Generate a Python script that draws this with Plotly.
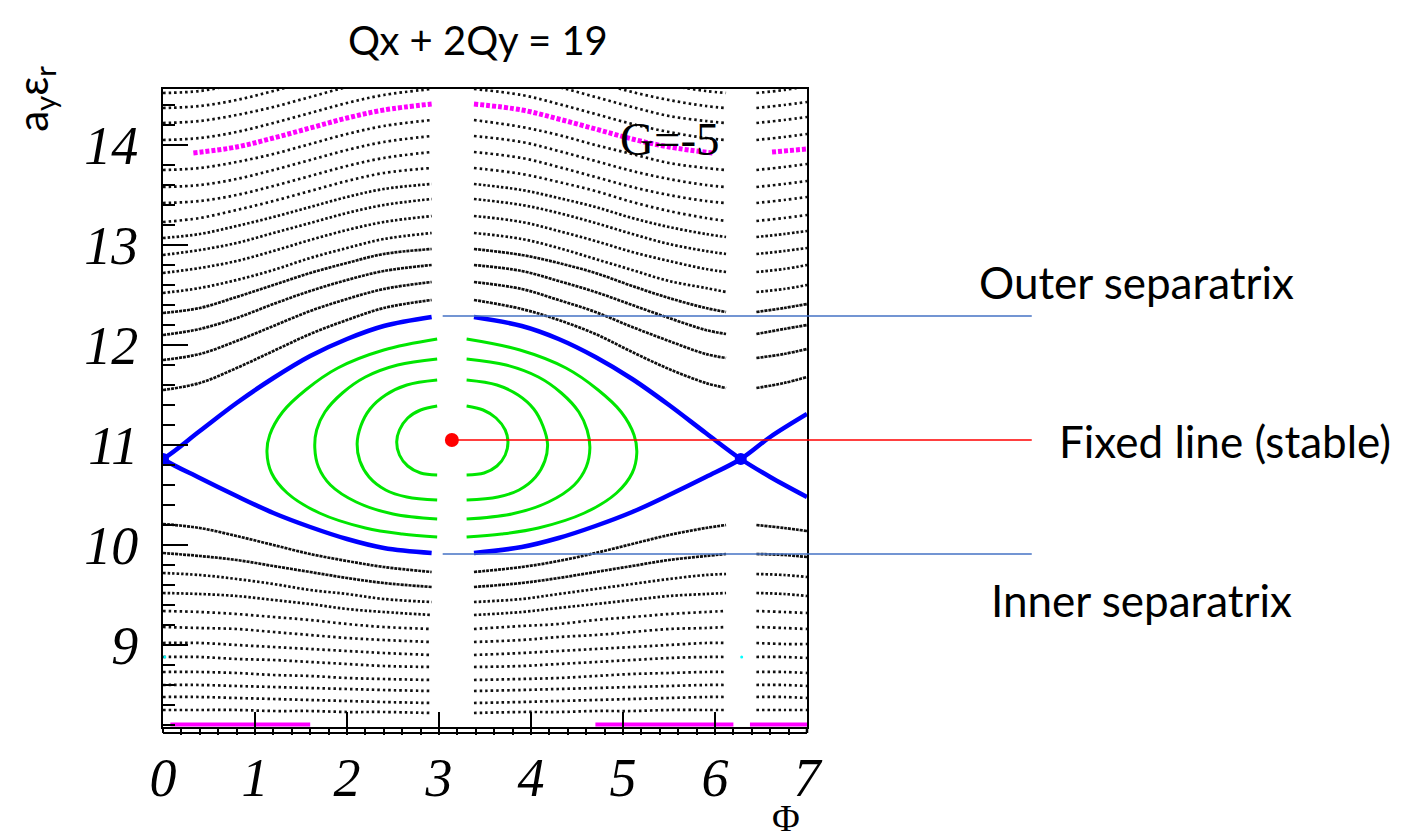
import plotly.graph_objects as go

# ---------------- data ----------------
# phase stations (Phi) used for every non-island trajectory; gaps near pi and 2pi
PHI_LEFT = [0.0, 0.4, 0.8, 1.2, 1.6, 2.0, 2.4, 2.92]
PHI_RIGHT = [3.38, 3.9, 4.3, 4.7, 5.1, 5.5, 5.9, 6.12]
PHI_FAR = [6.45, 6.75, 7.0]

# trajectories above the outer separatrix (19 values: left 8, right 8, far 3)
UPPER_CURVES = [
    [14.52, 14.54, 14.61, 14.70, 14.81, 14.92, 15.02, 15.08, 15.08, 15.01, 14.92, 14.81, 14.70, 14.60, 14.54, 14.52, 14.52, 14.55, 14.59],
    [14.37, 14.39, 14.45, 14.54, 14.64, 14.74, 14.82, 14.88, 14.88, 14.82, 14.73, 14.63, 14.53, 14.45, 14.39, 14.37, 14.37, 14.40, 14.43],
    [14.22, 14.24, 14.30, 14.38, 14.48, 14.58, 14.66, 14.72, 14.72, 14.66, 14.58, 14.48, 14.38, 14.29, 14.24, 14.22, 14.22, 14.25, 14.28],
    [14.05, 14.07, 14.13, 14.22, 14.32, 14.42, 14.50, 14.56, 14.56, 14.50, 14.41, 14.31, 14.21, 14.13, 14.07, 14.05, 14.05, 14.08, 14.11],
    [13.75, 13.77, 13.83, 13.91, 14.01, 14.11, 14.19, 14.25, 14.25, 14.18, 14.10, 14.00, 13.91, 13.82, 13.77, 13.75, 13.75, 13.78, 13.81],
    [13.58, 13.60, 13.66, 13.75, 13.85, 13.95, 14.03, 14.09, 14.09, 14.03, 13.94, 13.84, 13.74, 13.66, 13.60, 13.58, 13.58, 13.61, 13.64],
    [13.42, 13.44, 13.50, 13.59, 13.69, 13.79, 13.87, 13.93, 13.93, 13.87, 13.78, 13.68, 13.58, 13.50, 13.44, 13.42, 13.42, 13.45, 13.48],
    [13.23, 13.27, 13.35, 13.44, 13.54, 13.64, 13.72, 13.77, 13.77, 13.71, 13.63, 13.54, 13.43, 13.34, 13.27, 13.24, 13.24, 13.27, 13.30],
    [13.07, 13.11, 13.19, 13.28, 13.38, 13.48, 13.56, 13.61, 13.61, 13.55, 13.47, 13.38, 13.27, 13.18, 13.11, 13.08, 13.08, 13.11, 13.14],
    [12.90, 12.95, 13.02, 13.12, 13.22, 13.32, 13.40, 13.46, 13.46, 13.40, 13.32, 13.22, 13.11, 13.01, 12.94, 12.91, 12.91, 12.94, 12.97],
    [12.72, 12.77, 12.84, 12.94, 13.05, 13.15, 13.23, 13.29, 13.29, 13.23, 13.14, 13.04, 12.93, 12.84, 12.76, 12.73, 12.73, 12.76, 12.80],
    [12.52, 12.57, 12.65, 12.75, 12.87, 12.97, 13.06, 13.12, 13.12, 13.06, 12.97, 12.86, 12.75, 12.64, 12.57, 12.53, 12.53, 12.56, 12.60],
    [12.32, 12.37, 12.48, 12.60, 12.72, 12.82, 12.91, 12.96, 12.96, 12.90, 12.82, 12.72, 12.59, 12.47, 12.37, 12.33, 12.33, 12.37, 12.41],
    [12.10, 12.16, 12.27, 12.41, 12.54, 12.65, 12.74, 12.80, 12.80, 12.74, 12.64, 12.53, 12.40, 12.27, 12.15, 12.11, 12.11, 12.16, 12.20],
    [11.85, 11.91, 12.04, 12.19, 12.34, 12.46, 12.56, 12.63, 12.63, 12.56, 12.45, 12.33, 12.18, 12.04, 11.91, 11.87, 11.87, 11.91, 11.96],
    [11.55, 11.62, 11.77, 11.94, 12.11, 12.25, 12.37, 12.45, 12.45, 12.36, 12.25, 12.11, 11.93, 11.76, 11.62, 11.57, 11.57, 11.62, 11.68],
]
UPPER_DASH = ["2.5px,3px"] * 8 + ["2.5px,2px"] * 4 + ["3px,1px"] * 4

# trajectories below the inner separatrix
LOWER_CURVES = [
    [10.21, 10.17, 10.09, 10.00, 9.91, 9.84, 9.78, 9.73, 9.73, 9.78, 9.84, 9.92, 10.01, 10.10, 10.17, 10.20, 10.20, 10.17, 10.14],
    [9.92, 9.89, 9.85, 9.79, 9.73, 9.67, 9.62, 9.58, 9.58, 9.62, 9.67, 9.73, 9.79, 9.85, 9.89, 9.91, 9.91, 9.90, 9.88],
    [9.72, 9.70, 9.66, 9.61, 9.55, 9.51, 9.46, 9.43, 9.43, 9.46, 9.51, 9.56, 9.61, 9.66, 9.70, 9.71, 9.71, 9.70, 9.68],
    [9.52, 9.51, 9.49, 9.45, 9.41, 9.36, 9.33, 9.30, 9.30, 9.33, 9.37, 9.41, 9.45, 9.49, 9.51, 9.52, 9.52, 9.51, 9.49],
    [9.34, 9.33, 9.31, 9.28, 9.25, 9.21, 9.18, 9.16, 9.16, 9.19, 9.21, 9.25, 9.28, 9.31, 9.33, 9.34, 9.34, 9.33, 9.32],
    [9.18, 9.17, 9.16, 9.13, 9.10, 9.07, 9.05, 9.03, 9.03, 9.05, 9.08, 9.10, 9.13, 9.16, 9.17, 9.18, 9.18, 9.17, 9.16],
    [9.02, 9.02, 9.00, 8.98, 8.96, 8.94, 8.92, 8.90, 8.90, 8.92, 8.94, 8.96, 8.98, 9.00, 9.02, 9.02, 9.02, 9.01, 9.01],
    [8.88, 8.88, 8.86, 8.85, 8.83, 8.81, 8.79, 8.78, 8.78, 8.79, 8.81, 8.83, 8.85, 8.87, 8.88, 8.88, 8.88, 8.88, 8.87],
    [8.73, 8.73, 8.72, 8.70, 8.69, 8.67, 8.66, 8.65, 8.65, 8.66, 8.67, 8.69, 8.71, 8.72, 8.73, 8.73, 8.73, 8.73, 8.72],
    [8.60, 8.60, 8.59, 8.58, 8.57, 8.56, 8.55, 8.54, 8.54, 8.55, 8.56, 8.57, 8.58, 8.59, 8.60, 8.60, 8.60, 8.60, 8.59],
    [8.48, 8.48, 8.47, 8.46, 8.45, 8.44, 8.43, 8.42, 8.42, 8.43, 8.44, 8.45, 8.46, 8.47, 8.48, 8.48, 8.48, 8.48, 8.47],
    [8.35, 8.35, 8.35, 8.34, 8.34, 8.33, 8.33, 8.32, 8.32, 8.33, 8.33, 8.34, 8.34, 8.35, 8.35, 8.35, 8.35, 8.35, 8.35],
]
LOWER_DASH = ["3px,1px"] * 2 + ["2.5px,2px"] * 2 + ["2.5px,3px"] * 8

# magenta trajectory at the top (three pieces)
MAG_PHI = [[0.33, 0.8, 1.2, 1.6, 2.0, 2.4, 2.92],
           [3.38, 3.9, 4.3, 4.7, 5.1, 5.5, 5.98],
           [6.62, 7.0]]
MAG_Y = [[13.92, 13.98, 14.07, 14.17, 14.27, 14.35, 14.41],
         [14.41, 14.35, 14.26, 14.16, 14.06, 13.98, 13.92],
         [13.93, 13.96]]
# magenta trajectory at the bottom
BOT_MAG_PHI = [[0.08, 1.6], [4.7, 6.2], [6.38, 7.0]]
BOT_MAG_Y = 8.205

# separatrix branches (blue)
SEP_PHI = [[-0.4, 0.0, 0.4, 0.8, 1.2, 1.6, 2.0, 2.4, 2.92],
           [3.38, 3.9, 4.3, 4.7, 5.1, 5.5, 5.9, 6.28, 6.6, 7.0]]
SEP_UPPER = [[10.67, 10.86, 11.14, 11.42, 11.67, 11.89, 12.06, 12.19, 12.28],
             [12.28, 12.19, 12.06, 11.88, 11.66, 11.40, 11.12, 10.86, 10.68, 10.48]]
SEP_LOWER = [[11.14, 10.86, 10.67, 10.49, 10.32, 10.18, 10.06, 9.97, 9.92],
             [9.92, 9.98, 10.07, 10.19, 10.33, 10.50, 10.68, 10.86, 11.08, 11.31]]

# islands (green): left half and right half of each closed curve
ISLAND_LEFT_PHI = [
    [2.98, 2.8, 2.66, 2.57, 2.54, 2.57, 2.66, 2.8, 2.98],
    [2.98, 2.65, 2.42, 2.25, 2.15, 2.11, 2.14, 2.24, 2.42, 2.65, 2.98],
    [2.98, 2.55, 2.2, 1.95, 1.76, 1.67, 1.65, 1.69, 1.82, 2.1, 2.5, 2.98],
    [2.98, 2.4, 1.9, 1.55, 1.3, 1.16, 1.13, 1.18, 1.35, 1.7, 2.2, 2.6, 2.98],
]
ISLAND_LEFT_Y = [
    [11.39, 11.35, 11.27, 11.15, 11.03, 10.90, 10.79, 10.72, 10.70],
    [11.65, 11.60, 11.50, 11.36, 11.19, 11.01, 10.84, 10.68, 10.55, 10.48, 10.45],
    [11.86, 11.80, 11.68, 11.52, 11.33, 11.15, 10.97, 10.78, 10.60, 10.43, 10.31, 10.26],
    [12.06, 11.95, 11.77, 11.55, 11.33, 11.10, 10.93, 10.72, 10.52, 10.32, 10.17, 10.11, 10.08],
]
ISLAND_RIGHT_PHI = [
    [3.30, 3.48, 3.62, 3.72, 3.75, 3.72, 3.63, 3.49, 3.30],
    [3.30, 3.63, 3.86, 4.03, 4.13, 4.18, 4.15, 4.05, 3.87, 3.64, 3.30],
    [3.30, 3.73, 4.08, 4.33, 4.52, 4.61, 4.64, 4.60, 4.47, 4.19, 3.79, 3.30],
    [3.30, 3.88, 4.38, 4.73, 4.98, 5.12, 5.15, 5.10, 4.93, 4.58, 4.08, 3.68, 3.30],
]
ISLAND_RIGHT_Y = [
    [11.39, 11.35, 11.27, 11.15, 11.03, 10.90, 10.79, 10.72, 10.70],
    [11.65, 11.60, 11.50, 11.36, 11.19, 11.01, 10.84, 10.68, 10.55, 10.48, 10.45],
    [11.86, 11.80, 11.68, 11.52, 11.33, 11.15, 10.97, 10.78, 10.60, 10.43, 10.31, 10.26],
    [12.06, 11.95, 11.77, 11.55, 11.33, 11.10, 10.92, 10.72, 10.52, 10.32, 10.17, 10.11, 10.08],
]

FIXED_POINT = (3.14, 11.05)
X_POINTS_PHI = [0.0, 6.28]
X_POINTS_Y = [10.86, 10.86]
CYAN_PHI = [0.02, 6.29]
CYAN_Y = [8.88, 8.88]

OUTER_SEP_LEVEL = 12.29
INNER_SEP_LEVEL = 9.91

X_RANGE = [0, 7]
Y_RANGE = [8.18, 14.56]

TITLE = "Qx + 2Qy = 19"
LABELS = ["Outer separatrix", "Fixed line (stable)", "Inner separatrix"]

# ---------------- figure ----------------
fig = go.Figure()


def joined(parts_x, parts_y):
    xs, ys = [], []
    for px_, py_ in zip(parts_x, parts_y):
        if xs:
            xs.append(None)
            ys.append(None)
        xs.extend(px_)
        ys.extend(py_)
    return xs, ys


n_l, n_r = len(PHI_LEFT), len(PHI_RIGHT)


def split_row(row):
    return [row[:n_l], row[n_l:n_l + n_r], row[n_l + n_r:]]


for rows, dashes in ((UPPER_CURVES, UPPER_DASH), (LOWER_CURVES, LOWER_DASH)):
    for row, dash in zip(rows, dashes):
        xs, ys = joined([PHI_LEFT, PHI_RIGHT, PHI_FAR], split_row(row))
        fig.add_trace(go.Scatter(x=xs, y=ys, mode="lines",
                                 line=dict(color="#111111", width=2.7, dash=dash, shape="spline"),
                                 hoverinfo="skip"))

# magenta
xs, ys = joined(MAG_PHI, MAG_Y)
fig.add_trace(go.Scatter(x=xs, y=ys, mode="lines",
                         line=dict(color="#ff00ff", width=5, dash="4px,2px", shape="spline"),
                         hoverinfo="skip"))
xs, ys = joined(BOT_MAG_PHI, [[BOT_MAG_Y] * len(p) for p in BOT_MAG_PHI])
fig.add_trace(go.Scatter(x=xs, y=ys, mode="lines",
                         line=dict(color="#ff00ff", width=4), hoverinfo="skip"))

# islands
for lx, ly, rx, ry in zip(ISLAND_LEFT_PHI, ISLAND_LEFT_Y, ISLAND_RIGHT_PHI, ISLAND_RIGHT_Y):
    xs, ys = joined([lx, rx], [ly, ry])
    fig.add_trace(go.Scatter(x=xs, y=ys, mode="lines",
                             line=dict(color="#00e600", width=3, shape="spline"),
                             hoverinfo="skip"))

# separatrix
for branch in (SEP_UPPER, SEP_LOWER):
    xs, ys = joined(SEP_PHI, branch)
    fig.add_trace(go.Scatter(x=xs, y=ys, mode="lines",
                             line=dict(color="#0000ff", width=4.5, shape="spline"),
                             hoverinfo="skip"))

fig.add_trace(go.Scatter(x=X_POINTS_PHI, y=X_POINTS_Y, mode="markers",
                         marker=dict(color="#0000ff", size=12), hoverinfo="skip"))
fig.add_trace(go.Scatter(x=CYAN_PHI, y=CYAN_Y, mode="markers",
                         marker=dict(color="#00ffff", size=3), hoverinfo="skip"))


# annotation lines (paper coordinates so they can leave the frame)
def ypaper(v):
    return (v - Y_RANGE[0]) / (Y_RANGE[1] - Y_RANGE[0])


def xpaper(v):
    return (v - X_RANGE[0]) / (X_RANGE[1] - X_RANGE[0])


x_end = 1.349
fig.add_shape(type="line", xref="paper", yref="paper", x0=xpaper(3.04), x1=x_end,
              y0=ypaper(OUTER_SEP_LEVEL), y1=ypaper(OUTER_SEP_LEVEL),
              line=dict(color="#4472c4", width=1.5))
fig.add_shape(type="line", xref="paper", yref="paper", x0=xpaper(FIXED_POINT[0]), x1=x_end,
              y0=ypaper(FIXED_POINT[1]), y1=ypaper(FIXED_POINT[1]),
              line=dict(color="#ff0000", width=1.5))
fig.add_shape(type="line", xref="paper", yref="paper", x0=xpaper(3.04), x1=x_end,
              y0=ypaper(INNER_SEP_LEVEL), y1=ypaper(INNER_SEP_LEVEL),
              line=dict(color="#4472c4", width=1.5))

fig.add_trace(go.Scatter(x=[FIXED_POINT[0]], y=[FIXED_POINT[1]], mode="markers",
                         marker=dict(color="#ff0000", size=14), hoverinfo="skip"))

# bottom box under the x axis
bot = -6 / 638
fig.add_shape(type="line", xref="paper", yref="paper", x0=0, x1=1, y0=bot, y1=bot,
              line=dict(color="black", width=2))
fig.add_shape(type="line", xref="paper", yref="paper", x0=0, x1=0, y0=bot, y1=0,
              line=dict(color="black", width=2))
fig.add_shape(type="line", xref="paper", yref="paper", x0=1, x1=1, y0=bot, y1=0,
              line=dict(color="black", width=2.5))

fig.add_annotation(text=TITLE, xref="paper", yref="paper", x=0.489, y=1.077,
                   xanchor="center", yanchor="middle", showarrow=False,
                   font=dict(family="Lato", size=40, color="black"))
for label, lx, ly in zip(LABELS, [1.511, 1.649, 1.520], [0.697, 0.448, 0.199]):
    fig.add_annotation(text=label, xref="paper", yref="paper", x=lx, y=ly,
                       xanchor="center", yanchor="middle", showarrow=False,
                       font=dict(family="Lato", size=44, color="black"))

fig.add_annotation(text="G=-5", xref="x", yref="y", x=5.51, y=14.06, showarrow=False,
                   xanchor="center", yanchor="middle",
                   font=dict(family="Liberation Serif", size=47, color="black"))
fig.add_annotation(text="Φ", xref="paper", yref="paper", x=0.968, y=-0.142,
                   xanchor="center", yanchor="middle", showarrow=False,
                   font=dict(family="Liberation Serif", size=38, color="black"))
fig.add_annotation(text="a<sub>y</sub>ε<sub>r</sub>", xref="paper", yref="paper",
                   x=-0.2, y=0.985, textangle=-90, showarrow=False,
                   xanchor="center", yanchor="middle",
                   font=dict(family="Lato", size=42, color="black"))

# the page body has an 8 px margin, so the figure is 8 px smaller on each side
fig.update_layout(width=1402, height=828, margin=dict(l=155, r=603, t=81, b=109),
                  plot_bgcolor="white", paper_bgcolor="white", showlegend=False)
tick_font = dict(family="Liberation Serif", size=54, style="italic", color="black")
fig.update_xaxes(range=X_RANGE, tick0=0, dtick=1, ticks="inside", ticklen=15, tickwidth=1.5,
                 tickcolor="black", showline=True, linecolor="black", linewidth=2, mirror=True,
                 showgrid=False, zeroline=False, tickfont=tick_font, ticklabelstandoff=2,
                 minor=dict(ticks="outside", tick0=0, dtick=0.2, ticklen=6, tickwidth=1.5,
                            tickcolor="black", showgrid=False))
fig.update_yaxes(range=Y_RANGE, tick0=0, dtick=1, ticks="inside", ticklen=25, tickwidth=1.5,
                 tickcolor="black", showline=True, linecolor="black", linewidth=2, mirror=True,
                 showgrid=False, zeroline=False, tickfont=tick_font, ticklabelstandoff=12,
                 minor=dict(ticks="inside", tick0=0, dtick=0.2, ticklen=12, tickwidth=1.5,
                            tickcolor="black", showgrid=False))

fig.write_html("out.html")
